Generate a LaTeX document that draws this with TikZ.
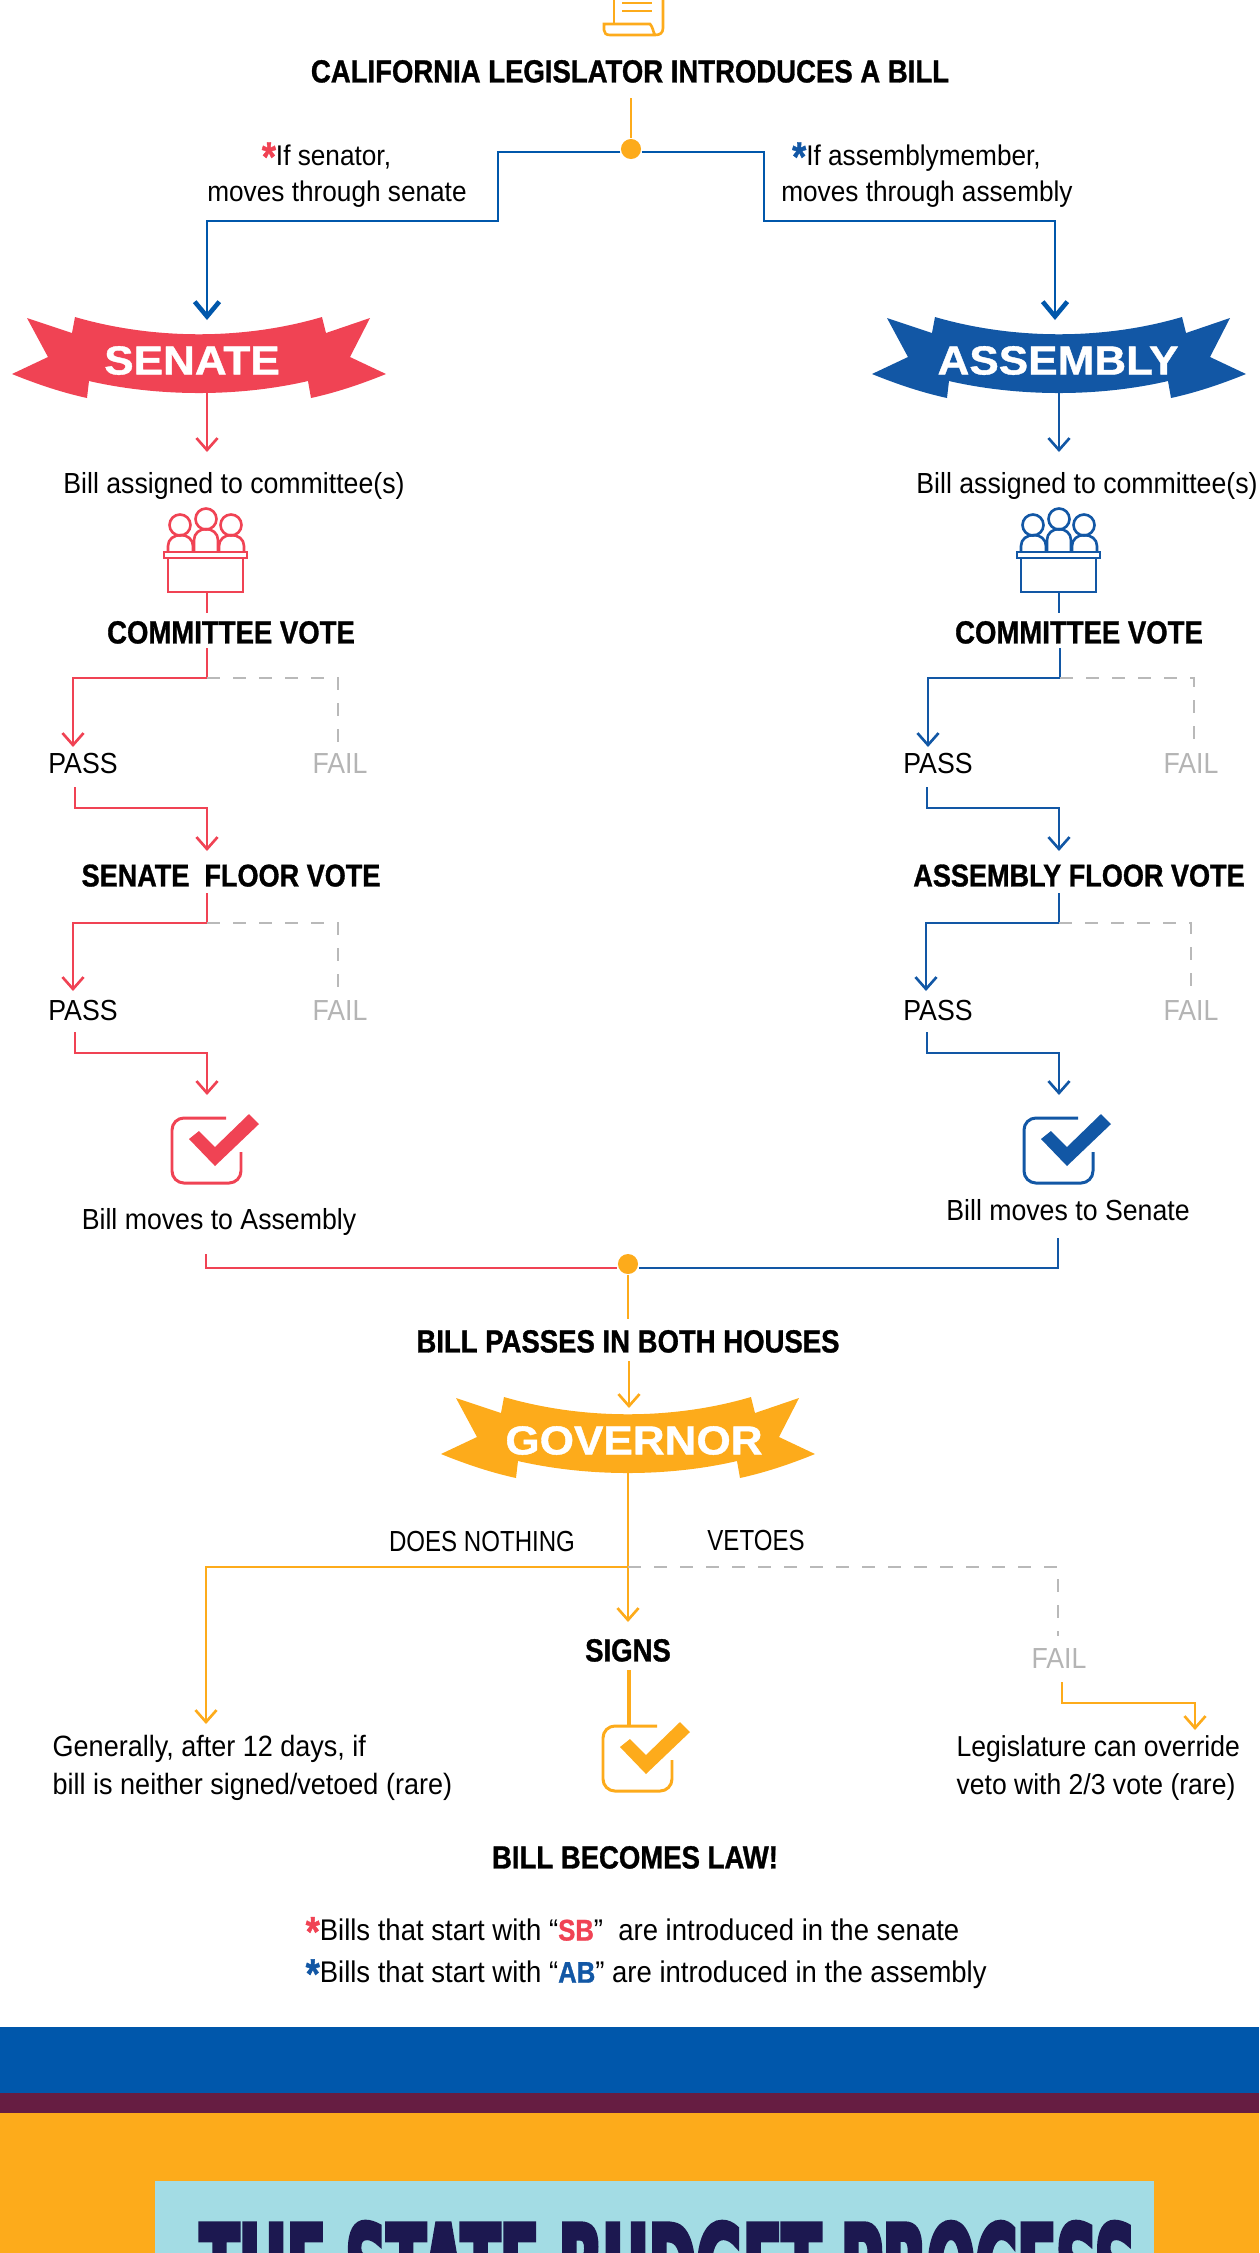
\documentclass[tikz,border=0pt]{standalone}
\usepackage{fontspec}
\setmainfont[FakeStretch=0.92,BoldFeatures={FakeStretch=0.86,FakeBold=1}]{Liberation Sans}
\newfontfamily\capsfont[FakeStretch=0.83]{Liberation Sans}
\newfontfamily\ribbonfont[BoldFeatures={FakeStretch=1.09,FakeBold=1}]{Liberation Sans}
\newfontfamily\budgetfont[FakeStretch=0.464,FakeBold=3]{DejaVu Sans}
\usetikzlibrary{arrows.meta}

\definecolor{cred}{HTML}{F04354}
\definecolor{cblue}{HTML}{1257A5}
\definecolor{cdeep}{HTML}{0057AB}
\definecolor{corange}{HTML}{FDAB1B}
\definecolor{cgray}{HTML}{B9B9B9}
\definecolor{cfail}{HTML}{B4B4B4}
\definecolor{cplum}{HTML}{661D42}
\definecolor{cice}{HTML}{A3DCE4}
\definecolor{cnavy}{HTML}{1C1850}

\newcommand{\astk}[1]{\raisebox{-1.6pt}{\textcolor{#1}{\bfseries\fontsize{12}{12}\selectfont *}}}

\tikzset{
  bodytxt/.style={font=\fontsize{8.25}{10.5}\selectfont, inner sep=0pt, text height=6pt, text depth=0pt},
  headtxt/.style={font=\bfseries\fontsize{9.1}{11}\selectfont, inner sep=0pt, text height=6.5pt, text depth=0pt},
  floortxt/.style={headtxt, font=\bfseries\fontsize{8.95}{11}\selectfont},
  capstxt/.style={bodytxt, font=\capsfont\fontsize{8.25}{10.5}\selectfont},
  failtxt/.style={bodytxt, text=cfail},
  notetxt/.style={font=\fontsize{8.35}{10.8}\selectfont, inner sep=0pt, align=left, anchor=west},
  toptxt/.style={font=\fontsize{8.1}{10.3}\selectfont, inner sep=0pt, align=center},
  ribtxt/.style={font=\ribbonfont\bfseries\fontsize{11.5}{12}\selectfont, text=white, inner sep=0pt, text height=8.2pt, text depth=0pt},
  sline/.style={draw=cred, line width=.75pt},
  aline/.style={draw=cblue, line width=.75pt},
  tline/.style={draw=cdeep, line width=.75pt},
  gline/.style={draw=corange, line width=.75pt},
  fline/.style={draw=cgray, line width=.75pt, dash pattern=on 3.7pt off 3.7pt},
  jdot/.style={circle, fill=corange, inner sep=0pt, minimum size=5.7pt},
  ribbon/.pic={
    \fill (-172,-39) -- (-127,-24) -- (-124,-40)
      .. controls (-45,-17) and (45,-17) .. (123,-40)
      -- (127,-24) -- (171,-39) -- (151,0) -- (187,17)
      .. controls (160,28) and (135,36) .. (112,41)
      -- (109,24) .. controls (40,40) and (-40,40) .. (-110,24)
      -- (-112,41) .. controls (-135,36) and (-160,28) .. (-187,17)
      -- (-151,0) -- cycle;
    \coordinate (-low) at (0,36);
  },
  panel/.pic={
    \draw[line width=.75pt] (-38,-34) rectangle (37,0);
    \draw[line width=.75pt] (-42,-40) rectangle (41,-34);
    \draw[line width=.75pt] (-26,-67) circle (10.5);
    \draw[line width=.75pt] (0,-73) circle (10.5);
    \draw[line width=.75pt] (25,-67) circle (10.5);
    \draw[line width=.75pt] (-38,-40) -- (-38,-46) .. controls (-38,-53) and (-32,-57) .. (-25,-57)
      .. controls (-19,-57) and (-13,-53) .. (-13,-46) -- (-13,-40);
    \draw[line width=.75pt] (-12,-40) -- (-12,-52) .. controls (-12,-59) and (-6,-63) .. (0,-63)
      .. controls (6,-63) and (12,-59) .. (12,-52) -- (12,-40);
    \draw[line width=.75pt] (13,-40) -- (13,-46) .. controls (13,-53) and (19,-57) .. (25,-57)
      .. controls (32,-57) and (38,-53) .. (38,-46) -- (38,-40);
    \coordinate (-foot) at (0,0);
  },
  tickbox/.pic={
    \draw[line width=.85pt, rounded corners=3.4pt] (54,0) -- (0,0) -- (0,65) -- (69,65) -- (69,34);
    \fill (17,21) -- (27,13) -- (43,29) -- (77,-4) -- (87,6) -- (43,48) -- cycle;
  },
}

\begin{document}
\begin{tikzpicture}[x=0.01cm, y=-0.01cm, >={Straight Barb[length=3.4pt,width=6pt]}]
\clip (0,0) rectangle (1259,2253);

% scroll at the top
\draw[corange, line width=.75pt] (614,-5) -- (614,24);
\draw[corange, line width=.75pt] (663,-5) -- (663,28) .. controls (663,33) and (660,35) .. (655,35) -- (610,35)
  .. controls (606,35) and (604,33) .. (604,30) -- (604,24) -- (650,24) .. controls (653,27) and (653,32) .. (655,35);
\draw[corange, line width=.75pt] (622,3) -- (652,3);
\draw[corange, line width=.75pt] (622,11) -- (652,11);

\node[headtxt] (bill) at (630,71) {CALIFORNIA LEGISLATOR INTRODUCES A BILL};
\node[jdot] (dot1) at (631,149) {};
\coordinate (b1) at (631,98);
\draw[gline] (b1) -- (dot1);

\node[toptxt] (ifsen) at (337,175) {\astk{cred}If senator,\hspace*{6pt}\\moves through senate};
\node[toptxt] (ifasm) at (927,175) {\astk{cblue}If assemblymember,\hspace*{6pt}\\moves through assembly};

\coordinate (sb1) at (498,152);
\coordinate (sb2) at (207,221);
\coordinate (sb3) at (207,320);
\coordinate (ab1) at (764,152);
\coordinate (ab2) at (1055,221);
\coordinate (ab3) at (1055,320);
\draw[tline, -{Straight Barb[length=4.2pt,width=7pt,line width=1.3pt]}] (dot1.west |- sb1) -- (sb1) |- (sb2) -- (sb3);
\draw[tline, -{Straight Barb[length=4.2pt,width=7pt,line width=1.3pt]}] (dot1.east |- ab1) -- (ab1) |- (ab2) -- (ab3);

% senate side
\pic[cred] (sen) at (199,357) {ribbon};
\node[ribtxt] (sentxt) at (192,360) {SENATE};
\node[bodytxt] (sbill) at (234,483) {Bill assigned to committee(s)};
\pic[cred] (spanel) at (206,592) {panel};
\node[headtxt] (scv) at (231,632) {COMMITTEE VOTE};
\node[bodytxt] (spa1) at (83,763) {PASS};
\node[failtxt] (sfa1) at (340,763) {FAIL};
\node[floortxt] (sfv) at (231,875) {SENATE\ \ FLOOR VOTE};
\node[bodytxt] (spa2) at (83,1010) {PASS};
\node[failtxt] (sfa2) at (340,1010) {FAIL};
\pic[cred] (stick) at (172,1118) {tickbox};
\node[bodytxt] (smove) at (219,1219) {Bill moves to Assembly};

\coordinate (s1) at (207,452);
\coordinate (s2) at (207,613);
\coordinate (s3) at (207,648);
\coordinate (s4) at (207,678);
\coordinate (s5) at (73,747);
\coordinate (s6) at (338,747);
\coordinate (s7) at (75,787);
\coordinate (s8) at (207,808);
\coordinate (s9) at (207,851);
\coordinate (s10) at (207,893);
\coordinate (s11) at (207,923);
\coordinate (s12) at (73,991);
\coordinate (s13) at (338,991);
\coordinate (s14) at (75,1032);
\coordinate (s15) at (207,1053);
\coordinate (s16) at (207,1095);
\coordinate (s17) at (206,1254);
\coordinate (s18) at (206,1268);

\draw[sline,->] (sen-low -| s1) -- (s1);
\draw[sline] (spanel-foot -| s2) -- (s2);
\draw[sline,->] (s3) -- (s4) -| (s5);
\draw[fline] (s4) -| (s6);
\draw[sline,->] (s7) |- (s8) -- (s9);
\draw[sline,->] (s10) -- (s11) -| (s12);
\draw[fline] (s11) -| (s13);
\draw[sline,->] (s14) |- (s15) -- (s16);

% assembly side
\pic[cblue] (asm) at (1059,357) {ribbon};
\node[ribtxt] (asmtxt) at (1058,360) {ASSEMBLY};
\node[bodytxt] (abill) at (1087,483) {Bill assigned to committee(s)};
\pic[cblue] (apanel) at (1059,592) {panel};
\node[headtxt] (acv) at (1079,632) {COMMITTEE VOTE};
\node[bodytxt] (apa1) at (938,763) {PASS};
\node[failtxt] (afa1) at (1191,763) {FAIL};
\node[floortxt] (afv) at (1079,875) {ASSEMBLY FLOOR VOTE};
\node[bodytxt] (apa2) at (938,1010) {PASS};
\node[failtxt] (afa2) at (1191,1010) {FAIL};
\pic[cblue] (atick) at (1024,1118) {tickbox};
\node[bodytxt] (amove) at (1068,1210) {Bill moves to Senate};

\coordinate (a1) at (1059,452);
\coordinate (a2) at (1059,613);
\coordinate (a3) at (1060,648);
\coordinate (a4) at (1060,678);
\coordinate (a5) at (928,747);
\coordinate (a6) at (1194,747);
\coordinate (a7) at (927,787);
\coordinate (a8) at (1059,808);
\coordinate (a9) at (1059,851);
\coordinate (a10) at (1059,893);
\coordinate (a11) at (1059,923);
\coordinate (a12) at (926,991);
\coordinate (a13) at (1191,991);
\coordinate (a14) at (927,1032);
\coordinate (a15) at (1059,1053);
\coordinate (a16) at (1059,1095);
\coordinate (a17) at (1058,1238);
\coordinate (a18) at (1058,1268);

\draw[aline,->] (asm-low -| a1) -- (a1);
\draw[aline] (apanel-foot -| a2) -- (a2);
\draw[aline,->] (a3) -- (a4) -| (a5);
\draw[fline] (a4) -| (a6);
\draw[aline,->] (a7) |- (a8) -- (a9);
\draw[aline,->] (a10) -- (a11) -| (a12);
\draw[fline] (a11) -| (a13);
\draw[aline,->] (a14) |- (a15) -- (a16);

% both houses
\node[jdot] (dot2) at (628,1264) {};
\draw[sline] (s17) |- (s18) -- (dot2.west |- s18);
\draw[aline] (a17) |- (a18) -- (dot2.east |- a18);

\node[headtxt] (both) at (628,1341) {BILL PASSES IN BOTH HOUSES};
\pic[corange] (gov) at (628,1437) {ribbon};
\node[ribtxt] (govtxt) at (634,1440) {GOVERNOR};
\node[capstxt] (none) at (482,1541) {DOES NOTHING};
\node[capstxt] (veto) at (756,1540) {VETOES};
\node[headtxt] (signs) at (628,1650) {SIGNS};
\node[failtxt] (gfail) at (1059,1658) {FAIL};
\pic[corange] (gtick) at (603,1726) {tickbox};
\node[notetxt] (rare) at (52,1768) {Generally, after 12 days, if\\bill is neither signed/vetoed (rare)};
\node[notetxt, font=\fontsize{8.2}{10.8}\selectfont] (over) at (956,1768) {Legislature can override\\veto with 2/3 vote (rare)};
\node[headtxt] (law) at (635,1857) {BILL BECOMES LAW!};
\node[notetxt, font=\fontsize{8.5}{12}\selectfont] (foot) at (305,1953) {\astk{cred}Bills that start with “\textcolor{cred}{\bfseries SB}”\ \ are introduced in the senate\\\astk{cblue}Bills that start with “\textcolor{cblue}{\bfseries AB}” are introduced in the assembly};

\coordinate (g1) at (628,1319);
\coordinate (g2) at (629,1361);
\coordinate (g3) at (629,1408);
\coordinate (g4) at (628,1622);
\coordinate (g5) at (628,1567);
\coordinate (g6) at (206,1724);
\coordinate (g7) at (1058,1636);
\coordinate (g8) at (1062,1682);
\coordinate (g9) at (1195,1703);
\coordinate (g10) at (1195,1730);
\coordinate (g11) at (629,1670);
\coordinate (g12) at (629,1726);

\draw[gline] (dot2) -- (g1);
\draw[gline,->] (g2) -- (g3);
\draw[gline,->] (gov-low) -- (g4);
\draw[gline,->] (g5) -| (g6);
\draw[fline] (g5) -| (g7);
\draw[gline,->] (g8) |- (g9) -- (g10);
\draw[gline, line width=1.4pt] (g11) -- (g12);

% next section
\fill[cdeep] (0,2027) rectangle (1259,2093);
\fill[cplum] (0,2093) rectangle (1259,2113);
\fill[corange] (0,2113) rectangle (1259,2253);
\fill[cice] (155,2181) rectangle (1154,2253);
\node[font=\budgetfont\bfseries\fontsize{35}{36}\selectfont, text=cnavy, inner sep=0pt, text height=25.5pt, text depth=0pt] (budget) at (668,2268) {THE STATE BUDGET PROCESS};
\end{tikzpicture}
\end{document}
